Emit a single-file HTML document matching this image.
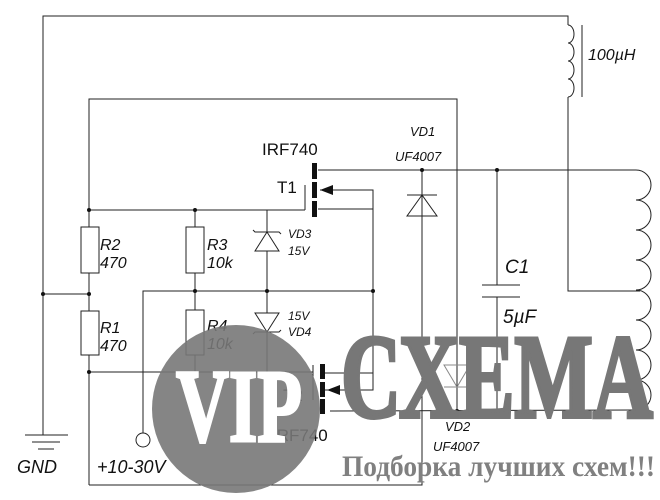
<!DOCTYPE html>
<html><head><meta charset="utf-8"><style>html,body{margin:0;padding:0;background:#fff}svg{display:block}</style></head><body>
<svg width="660" height="500" viewBox="0 0 660 500" xmlns="http://www.w3.org/2000/svg" font-family="Liberation Sans, sans-serif">
<g stroke="#222" stroke-width="1" fill="none">
<polyline points="43,435 43,16 568,16 568,25"/>
<line x1="25" y1="435" x2="68" y2="435"/>
<line x1="32" y1="442" x2="60" y2="442"/>
<line x1="38" y1="449" x2="54" y2="449"/>
<path d="M568,25 a6,9 0 0 1 0,18 a6,9 0 0 1 0,18 a6,9 0 0 1 0,18 a6,9 0 0 1 0,18"/>
<line x1="582" y1="25" x2="582" y2="97"/>
<polyline points="568,97 568,291 640,291"/>
<path d="M500,170 L636,170 a10,10 0 0 1 0,30 a10,10 0 0 1 0,30 a10,10 0 0 1 0,30 a10,10 0 0 1 0,30 a10,10 0 0 1 0,30 a10,10 0 0 1 0,30 a10,10 0 0 1 0,30 a10,10 0 0 1 0,30 L330,411"/>
<polyline points="89,485 89,99 457,99 457,411"/>
<polyline points="89,485 422,485 422,170"/>
<line x1="318" y1="170" x2="500" y2="170"/>
<line x1="407" y1="195" x2="437" y2="195"/>
<polygon points="422,195 407,216 437,216"/>
<polygon points="444,365 470,365 457,387" stroke="#888"/>
<line x1="444" y1="387" x2="470" y2="387" stroke="#888"/>
<line x1="497" y1="170" x2="497" y2="285"/>
<line x1="497" y1="297" x2="497" y2="411"/>
<line x1="482" y1="285" x2="520" y2="285"/>
<line x1="482" y1="297" x2="520" y2="297"/>
<line x1="89" y1="210" x2="305" y2="210"/>
<line x1="305" y1="185" x2="305" y2="210"/>
<line x1="43" y1="294" x2="89" y2="294"/>
<line x1="89" y1="372" x2="313" y2="372"/>
<line x1="313" y1="365" x2="313" y2="400"/>
<rect x="81" y="227" width="18" height="46" fill="#fff"/>
<rect x="81" y="311" width="18" height="44" fill="#fff"/>
<line x1="195" y1="210" x2="195" y2="372"/>
<rect x="186" y="227" width="18" height="46" fill="#fff"/>
<rect x="186" y="310" width="18" height="45" fill="#fff"/>
<line x1="267" y1="210" x2="267" y2="372"/>
<polygon points="267,232 255,251 279,251" fill="#fff"/>
<polyline points="253,230 255,232 279,232 281,234"/>
<polygon points="255,313 279,313 267,332" fill="#fff"/>
<polyline points="253,334 255,332 279,332 281,330"/>
<polyline points="143,433 143,291 373,291"/>
<circle cx="143" cy="440" r="7"/>
<polyline points="320,190 373,190 373,390 325,390"/>
<line x1="318" y1="209" x2="373" y2="209"/>
<line x1="325" y1="373" x2="373" y2="373"/>
</g>
<g fill="#111">
<rect x="312" y="163" width="5" height="16"/><rect x="312" y="182" width="5" height="16"/><rect x="312" y="201" width="5" height="16"/>
<rect x="320" y="364" width="5" height="15"/><rect x="320" y="382" width="5" height="15"/><rect x="320" y="399" width="5" height="15"/>
<polygon points="320,190 333,185 333,195"/>
<polygon points="327,390 340,385 340,395"/>
<circle cx="89" cy="210" r="2"/><circle cx="195" cy="210" r="2"/><circle cx="89" cy="294" r="2"/><circle cx="43" cy="294" r="2"/>
<circle cx="195" cy="291" r="2"/><circle cx="267" cy="291" r="2"/><circle cx="373" cy="291" r="2"/><circle cx="89" cy="372" r="2"/>
<circle cx="422" cy="170" r="2"/><circle cx="497" cy="170" r="2"/><circle cx="457" cy="411" r="2"/><circle cx="497" cy="411" r="2"/>
</g>
<g fill="#111" font-style="italic">
<text x="100" y="250" font-size="16">R2</text><text x="100" y="268" font-size="16">470</text>
<text x="100" y="333" font-size="16">R1</text><text x="100" y="351" font-size="16">470</text>
<text x="207" y="250" font-size="16">R3</text><text x="207" y="268" font-size="16">10k</text>
<text x="207" y="331" font-size="16">R4</text><text x="207" y="349" font-size="16">10k</text>
<text x="288" y="238" font-size="12">VD3</text><text x="288" y="255" font-size="12">15V</text>
<text x="288" y="320" font-size="12">15V</text><text x="288" y="336" font-size="12">VD4</text>
<text x="410" y="136" font-size="13">VD1</text><text x="395" y="161" font-size="13">UF4007</text>
<text x="445" y="431" font-size="13">VD2</text><text x="433" y="451" font-size="13">UF4007</text>
<text x="505" y="273" font-size="19">C1</text><text x="503" y="323" font-size="19">5µF</text>
<text x="588" y="60" font-size="16">100µH</text>
<text x="17" y="473" font-size="18">GND</text><text x="97" y="473" font-size="18">+10-30V</text>
</g>
<g fill="#111" font-size="17">
<text x="262" y="155">IRF740</text><text x="277" y="193">T1</text>
<text x="283" y="401">T2</text><text x="272" y="441">IRF740</text>
</g>
<circle cx="236" cy="409" r="84" fill="#787878" fill-opacity="0.9"/>
<text x="176" y="441" font-family="Liberation Serif, serif" font-size="104" font-weight="bold" fill="#fff" stroke="#fff" stroke-width="3" textLength="126" lengthAdjust="spacingAndGlyphs">VIP</text>
<text x="341" y="417" font-family="Liberation Serif, serif" font-size="120" font-weight="bold" fill="#777" stroke="#777" stroke-width="4" textLength="312" lengthAdjust="spacingAndGlyphs">СХЕМА</text>
<text x="342" y="476" font-family="Liberation Serif, serif" font-size="30" font-weight="bold" fill="#808080" textLength="313" lengthAdjust="spacingAndGlyphs">Подборка лучших схем!!!</text>
</svg>
</body></html>
